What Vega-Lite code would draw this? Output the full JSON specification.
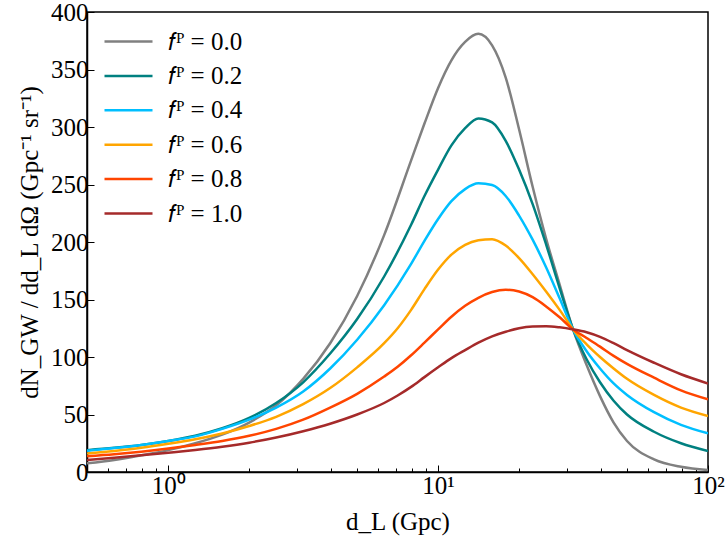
{
  "$schema": "https://vega.github.io/schema/vega-lite/v6.json",
  "width": 621,
  "height": 460,
  "autosize": {"type": "none"},
  "padding": {"left": 87, "top": 12, "right": 20, "bottom": 67},
  "background": "white",
  "config": {
    "view": {"stroke": "black", "strokeWidth": 1.5},
    "font": "Liberation Serif",
    "axis": {
      "grid": false,
      "domainColor": "black",
      "domainWidth": 1.5,
      "tickColor": "black",
      "tickWidth": 1,
      "labelFont": "Liberation Serif",
      "labelFontSize": 25,
      "labelColor": "black",
      "titleFont": "Liberation Serif",
      "titleFontSize": 25,
      "titleFontWeight": "normal",
      "titleColor": "black"
    },
    "legend": {
      "labelFont": "Liberation Serif",
      "labelFontSize": 25,
      "labelColor": "black"
    }
  },
  "datasets": {
    "curves": [
      {"d": 0.5, "n": 7.5, "f": "0.0"}, {"d": 0.631, "n": 10.5, "f": "0.0"}, {"d": 0.794, "n": 14.5, "f": "0.0"},
      {"d": 1, "n": 19, "f": "0.0"}, {"d": 1.259, "n": 25, "f": "0.0"}, {"d": 1.585, "n": 32.5, "f": "0.0"},
      {"d": 1.995, "n": 43, "f": "0.0"}, {"d": 2.512, "n": 58, "f": "0.0"}, {"d": 3.162, "n": 81, "f": "0.0"},
      {"d": 3.981, "n": 112, "f": "0.0"}, {"d": 5.012, "n": 153, "f": "0.0"}, {"d": 6.31, "n": 206, "f": "0.0"},
      {"d": 7.943, "n": 271, "f": "0.0"}, {"d": 8.9, "n": 303, "f": "0.0"}, {"d": 10, "n": 334, "f": "0.0"},
      {"d": 11.2, "n": 358, "f": "0.0"}, {"d": 12.59, "n": 374, "f": "0.0"}, {"d": 14.1, "n": 381, "f": "0.0"},
      {"d": 15.85, "n": 371, "f": "0.0"}, {"d": 17.8, "n": 343, "f": "0.0"}, {"d": 19.95, "n": 298, "f": "0.0"},
      {"d": 22.4, "n": 248, "f": "0.0"}, {"d": 25.12, "n": 203, "f": "0.0"}, {"d": 28.2, "n": 163, "f": "0.0"},
      {"d": 31.62, "n": 124, "f": "0.0"}, {"d": 35.5, "n": 93, "f": "0.0"}, {"d": 39.8, "n": 66, "f": "0.0"},
      {"d": 44.7, "n": 43, "f": "0.0"}, {"d": 50.1, "n": 27, "f": "0.0"}, {"d": 63.1, "n": 11, "f": "0.0"},
      {"d": 79.4, "n": 4.5, "f": "0.0"}, {"d": 100, "n": 1.7, "f": "0.0"},

      {"d": 0.5, "n": 19, "f": "0.2"}, {"d": 0.631, "n": 21, "f": "0.2"}, {"d": 0.794, "n": 23.5, "f": "0.2"},
      {"d": 1, "n": 27, "f": "0.2"}, {"d": 1.259, "n": 31.5, "f": "0.2"}, {"d": 1.585, "n": 38, "f": "0.2"},
      {"d": 1.995, "n": 47, "f": "0.2"}, {"d": 2.512, "n": 60, "f": "0.2"}, {"d": 3.162, "n": 78, "f": "0.2"},
      {"d": 3.981, "n": 103, "f": "0.2"}, {"d": 5.012, "n": 133, "f": "0.2"}, {"d": 6.31, "n": 170, "f": "0.2"},
      {"d": 7.943, "n": 215, "f": "0.2"}, {"d": 8.9, "n": 240, "f": "0.2"}, {"d": 10, "n": 263, "f": "0.2"},
      {"d": 11.2, "n": 284, "f": "0.2"}, {"d": 12.59, "n": 299, "f": "0.2"}, {"d": 14.1, "n": 307.5, "f": "0.2"},
      {"d": 15.85, "n": 304, "f": "0.2"}, {"d": 17.8, "n": 288, "f": "0.2"}, {"d": 19.95, "n": 263, "f": "0.2"},
      {"d": 22.4, "n": 233, "f": "0.2"}, {"d": 25.12, "n": 198, "f": "0.2"}, {"d": 28.2, "n": 160, "f": "0.2"},
      {"d": 31.62, "n": 124, "f": "0.2"}, {"d": 35.5, "n": 98, "f": "0.2"}, {"d": 39.8, "n": 78, "f": "0.2"},
      {"d": 44.7, "n": 62, "f": "0.2"}, {"d": 50.1, "n": 50, "f": "0.2"}, {"d": 63.1, "n": 35, "f": "0.2"},
      {"d": 79.4, "n": 25, "f": "0.2"}, {"d": 100, "n": 18.3, "f": "0.2"},

      {"d": 0.5, "n": 18.5, "f": "0.4"}, {"d": 0.631, "n": 20.8, "f": "0.4"}, {"d": 0.794, "n": 23.5, "f": "0.4"},
      {"d": 1, "n": 27, "f": "0.4"}, {"d": 1.259, "n": 31, "f": "0.4"}, {"d": 1.585, "n": 37.5, "f": "0.4"},
      {"d": 1.995, "n": 45.5, "f": "0.4"}, {"d": 2.512, "n": 56, "f": "0.4"}, {"d": 3.162, "n": 70, "f": "0.4"},
      {"d": 3.981, "n": 90, "f": "0.4"}, {"d": 5.012, "n": 115, "f": "0.4"}, {"d": 6.31, "n": 145, "f": "0.4"},
      {"d": 7.943, "n": 181, "f": "0.4"}, {"d": 8.9, "n": 201, "f": "0.4"}, {"d": 10, "n": 220, "f": "0.4"},
      {"d": 11.2, "n": 235.5, "f": "0.4"}, {"d": 12.59, "n": 246, "f": "0.4"}, {"d": 14.1, "n": 251, "f": "0.4"},
      {"d": 15.85, "n": 249.5, "f": "0.4"}, {"d": 17.8, "n": 240, "f": "0.4"}, {"d": 19.95, "n": 223, "f": "0.4"},
      {"d": 22.4, "n": 202, "f": "0.4"}, {"d": 25.12, "n": 178, "f": "0.4"}, {"d": 28.2, "n": 151, "f": "0.4"},
      {"d": 31.62, "n": 124, "f": "0.4"}, {"d": 35.5, "n": 105, "f": "0.4"}, {"d": 39.8, "n": 90, "f": "0.4"},
      {"d": 44.7, "n": 77, "f": "0.4"}, {"d": 50.1, "n": 67, "f": "0.4"}, {"d": 63.1, "n": 52, "f": "0.4"},
      {"d": 79.4, "n": 41, "f": "0.4"}, {"d": 100, "n": 33.6, "f": "0.4"},

      {"d": 0.5, "n": 16, "f": "0.6"}, {"d": 0.631, "n": 18.3, "f": "0.6"}, {"d": 0.794, "n": 21, "f": "0.6"},
      {"d": 1, "n": 24.5, "f": "0.6"}, {"d": 1.259, "n": 28.5, "f": "0.6"}, {"d": 1.585, "n": 33.5, "f": "0.6"},
      {"d": 1.995, "n": 40, "f": "0.6"}, {"d": 2.512, "n": 48, "f": "0.6"}, {"d": 3.162, "n": 59, "f": "0.6"},
      {"d": 3.981, "n": 73, "f": "0.6"}, {"d": 5.012, "n": 91, "f": "0.6"}, {"d": 6.31, "n": 112, "f": "0.6"},
      {"d": 7.08, "n": 125, "f": "0.6"}, {"d": 7.943, "n": 141, "f": "0.6"}, {"d": 8.9, "n": 159, "f": "0.6"},
      {"d": 10, "n": 176, "f": "0.6"}, {"d": 11.2, "n": 189, "f": "0.6"}, {"d": 12.59, "n": 197.5, "f": "0.6"},
      {"d": 14.1, "n": 201.5, "f": "0.6"}, {"d": 15.85, "n": 202.5, "f": "0.6"}, {"d": 17.8, "n": 197, "f": "0.6"},
      {"d": 19.95, "n": 186, "f": "0.6"}, {"d": 22.4, "n": 172, "f": "0.6"}, {"d": 25.12, "n": 157, "f": "0.6"},
      {"d": 28.2, "n": 141, "f": "0.6"}, {"d": 31.62, "n": 124, "f": "0.6"}, {"d": 35.5, "n": 111, "f": "0.6"},
      {"d": 39.8, "n": 100, "f": "0.6"}, {"d": 44.7, "n": 90, "f": "0.6"}, {"d": 50.1, "n": 81, "f": "0.6"},
      {"d": 63.1, "n": 67, "f": "0.6"}, {"d": 79.4, "n": 56, "f": "0.6"}, {"d": 100, "n": 48.7, "f": "0.6"},

      {"d": 0.5, "n": 13.8, "f": "0.8"}, {"d": 0.631, "n": 15.5, "f": "0.8"}, {"d": 0.794, "n": 17.7, "f": "0.8"},
      {"d": 1, "n": 20.4, "f": "0.8"}, {"d": 1.259, "n": 23.5, "f": "0.8"}, {"d": 1.585, "n": 27, "f": "0.8"},
      {"d": 1.995, "n": 31.5, "f": "0.8"}, {"d": 2.512, "n": 37.5, "f": "0.8"}, {"d": 3.162, "n": 45.5, "f": "0.8"},
      {"d": 3.981, "n": 56, "f": "0.8"}, {"d": 5.012, "n": 68, "f": "0.8"}, {"d": 6.31, "n": 83, "f": "0.8"},
      {"d": 7.08, "n": 91.5, "f": "0.8"}, {"d": 7.943, "n": 101.5, "f": "0.8"}, {"d": 8.9, "n": 112.5, "f": "0.8"},
      {"d": 10, "n": 124, "f": "0.8"}, {"d": 11.2, "n": 135, "f": "0.8"}, {"d": 12.59, "n": 144.5, "f": "0.8"},
      {"d": 14.1, "n": 151.5, "f": "0.8"}, {"d": 15.85, "n": 156.5, "f": "0.8"}, {"d": 17.8, "n": 158.5, "f": "0.8"},
      {"d": 19.95, "n": 157, "f": "0.8"}, {"d": 22.4, "n": 152, "f": "0.8"}, {"d": 25.12, "n": 144, "f": "0.8"},
      {"d": 28.2, "n": 134.5, "f": "0.8"}, {"d": 31.62, "n": 124, "f": "0.8"}, {"d": 35.5, "n": 116.5, "f": "0.8"},
      {"d": 39.8, "n": 109, "f": "0.8"}, {"d": 44.7, "n": 101, "f": "0.8"}, {"d": 50.1, "n": 94, "f": "0.8"},
      {"d": 63.1, "n": 82, "f": "0.8"}, {"d": 79.4, "n": 71, "f": "0.8"}, {"d": 100, "n": 63.2, "f": "0.8"},

      {"d": 0.5, "n": 10.4, "f": "1.0"}, {"d": 0.631, "n": 12.3, "f": "1.0"}, {"d": 0.794, "n": 14.5, "f": "1.0"},
      {"d": 1, "n": 16.8, "f": "1.0"}, {"d": 1.259, "n": 19.2, "f": "1.0"}, {"d": 1.585, "n": 22, "f": "1.0"},
      {"d": 1.995, "n": 25.5, "f": "1.0"}, {"d": 2.512, "n": 30, "f": "1.0"}, {"d": 3.162, "n": 35.5, "f": "1.0"},
      {"d": 3.981, "n": 42, "f": "1.0"}, {"d": 5.012, "n": 50, "f": "1.0"}, {"d": 6.31, "n": 60, "f": "1.0"},
      {"d": 7.08, "n": 66.5, "f": "1.0"}, {"d": 7.943, "n": 74, "f": "1.0"}, {"d": 8.9, "n": 82.5, "f": "1.0"},
      {"d": 10, "n": 91, "f": "1.0"}, {"d": 11.2, "n": 99, "f": "1.0"}, {"d": 12.59, "n": 106, "f": "1.0"},
      {"d": 14.1, "n": 112.5, "f": "1.0"}, {"d": 15.85, "n": 118, "f": "1.0"}, {"d": 17.8, "n": 122, "f": "1.0"},
      {"d": 19.95, "n": 125, "f": "1.0"}, {"d": 22.4, "n": 126.5, "f": "1.0"}, {"d": 25.12, "n": 126.8, "f": "1.0"},
      {"d": 28.2, "n": 125.8, "f": "1.0"}, {"d": 31.62, "n": 124, "f": "1.0"}, {"d": 35.5, "n": 121.5, "f": "1.0"},
      {"d": 39.8, "n": 117.5, "f": "1.0"}, {"d": 44.7, "n": 112, "f": "1.0"}, {"d": 50.1, "n": 106, "f": "1.0"},
      {"d": 63.1, "n": 95, "f": "1.0"}, {"d": 79.4, "n": 85, "f": "1.0"}, {"d": 100, "n": 77, "f": "1.0"}
    ]
  },
  "data": {"name": "curves"},
  "mark": {"type": "line", "strokeWidth": 2.5, "interpolate": "monotone", "clip": true},
  "encoding": {
    "x": {
      "field": "d",
      "type": "quantitative",
      "scale": {"type": "log", "domain": [0.5, 100], "nice": false},
      "axis": {
        "title": "d_L (Gpc)",
        "titlePadding": 8,
        "values": [0.5, 0.6, 0.7, 0.8, 0.9, 1, 2, 3, 4, 5, 6, 7, 8, 9, 10, 20, 30, 40, 50, 60, 70, 80, 90, 100],
        "labelExpr": "datum.value == 1 ? '10⁰' : datum.value == 10 ? '10¹' : datum.value == 100 ? '10²' : ''",
        "tickSize": {"condition": {"test": "datum.value == 1 || datum.value == 10 || datum.value == 100", "value": -7}, "value": -4},
        "labelPadding": 8,
        "labelFlush": false,
        "labelOverlap": false
      }
    },
    "y": {
      "field": "n",
      "type": "quantitative",
      "scale": {"domain": [0, 400], "nice": false},
      "axis": {
        "title": "dN_GW / dd_L dΩ  (Gpc⁻¹ sr⁻¹)",
        "values": [0, 50, 100, 150, 200, 250, 300, 350, 400],
        "tickSize": -7,
        "labelPadding": 6,
        "titlePadding": 8
      }
    },
    "color": {
      "field": "f",
      "type": "nominal",
      "scale": {
        "domain": ["0.0", "0.2", "0.4", "0.6", "0.8", "1.0"],
        "range": ["#808080", "#008080", "#00bfff", "#ffa500", "#ff4500", "#a52a2a"]
      },
      "legend": {
        "title": null,
        "orient": "none",
        "legendX": 28,
        "legendY": 16,
        "symbolType": "M-2,0H2",
        "symbolSize": 576,
        "symbolStrokeWidth": 2.5,
        "rowPadding": 7.4,
        "labelOffset": 26,
        "labelExpr": "'𝑓ᴾ = ' + datum.label"
      }
    }
  }
}
